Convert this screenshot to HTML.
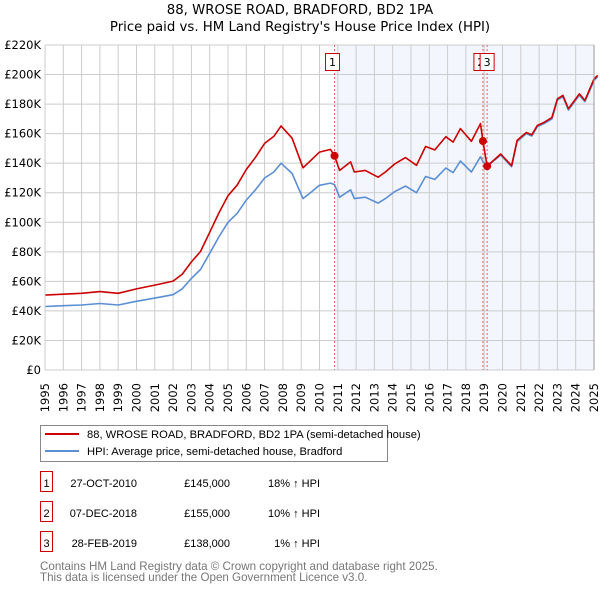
<!DOCTYPE html>
<html><head><meta charset="utf-8"><style>
body{margin:0;background:#fff;font-family:"DejaVu Sans","Liberation Sans",sans-serif;}
svg{display:block}
</style></head><body>
<svg id="chart" width="600" height="590" font-family="DejaVu Sans, Liberation Sans, sans-serif">
<text x="300" y="14" text-anchor="middle" font-size="13.3">88, WROSE ROAD, BRADFORD, BD2 1PA</text>
<text x="300" y="31" text-anchor="middle" font-size="13.3">Price paid vs. HM Land Registry's House Price Index (HPI)</text>
<g id="plot"></g>
<g font-family="Liberation Sans, sans-serif">
<rect x="40.5" y="425.5" width="347" height="36" fill="#fff" stroke="#888"/>
<line x1="45" y1="434" x2="79" y2="434" stroke="#cc0000" stroke-width="2"/>
<text x="87" y="438" font-size="11.2">88, WROSE ROAD, BRADFORD, BD2 1PA (semi-detached house)</text>
<line x1="45" y1="451" x2="79" y2="451" stroke="#5b8fd4" stroke-width="2"/>
<text x="87" y="455" font-size="11.2">HPI: Average price, semi-detached house, Bradford</text>
</g>
<g id="table" font-size="11" font-family="Liberation Sans, sans-serif"></g>
<text x="40" y="570" font-size="11.6" fill="#777" font-family="Liberation Sans, sans-serif">Contains HM Land Registry data © Crown copyright and database right 2025.</text>
<text x="40" y="581" font-size="11.6" fill="#777" font-family="Liberation Sans, sans-serif">This data is licensed under the Open Government Licence v3.0.</text>
</svg>
<script>
const hpiYears=[1995,1996,1997,1998,1999,2000,2001,2002,2002.5,2003,2003.5,2004,2004.5,2005,2005.5,2006,2006.5,2007,2007.5,2007.9,2008.5,2009.1,2009.5,2010,2010.6,2010.82,2011.1,2011.7,2011.9,2012.5,2013.2,2013.6,2014.1,2014.7,2015.3,2015.8,2016.3,2016.9,2017.3,2017.7,2018.3,2018.8,2018.93,2019.16,2019.9,2020.5,2020.8,2021.3,2021.6,2021.9,2022.3,2022.7,2023,2023.3,2023.6,2024.2,2024.5,2025,2025.2];
const hpiValues=[43,43.5,44,45,44,46.5,48.7,51,55,62,68,79,90,100,106,115,122,130,134,140,133,116,120,125,126.5,125.5,117,122,116,117,113,116,120.7,124.5,120,131,129,136.7,133.6,141.5,134,144.4,141,138,145.5,137.6,154.6,160,158.4,164.7,167,170,182.7,185,176,186,181.6,196,198.5];
const redYears=[1995,1996,1997,1998,1999,2000,2001,2002,2002.5,2003,2003.5,2004,2004.5,2005,2005.5,2006,2006.5,2007,2007.5,2007.9,2008.5,2009.1,2009.5,2010,2010.6,2010.82,2011.1,2011.7,2011.9,2012.5,2013.2,2013.6,2014.1,2014.7,2015.3,2015.8,2016.3,2016.9,2017.3,2017.7,2018.3,2018.8,2018.93,2019.16,2019.9,2020.5,2020.8,2021.3,2021.6,2021.9,2022.3,2022.7,2023,2023.3,2023.6,2024.2,2024.5,2025,2025.2];
const redValues=[50.7,51.3,51.9,53.1,51.9,54.9,57.5,60.2,64.9,73.2,80.2,93.2,106.2,118,125.1,135.7,144,153.4,158.1,165.2,156.9,136.9,141.6,147.5,149.3,145,135.1,140.9,134,135.1,130.5,134,139.4,143.8,138.6,151.3,149,157.9,154.3,163.4,154.8,166.8,155,138,146.2,138.3,155.4,160.8,159.2,165.5,167.8,170.9,183.6,185.9,176.9,186.9,182.5,197,199.5];
const saleYears=[2010.82,2018.93,2019.16];
const saleValues=[145,155,138];
const saleLabels=["1","2","3"];
const saleDates=["27-OCT-2010","07-DEC-2018","28-FEB-2019"];
const salePrices=["£145,000","£155,000","£138,000"];
const saleHpi=["18% ↑ HPI","10% ↑ HPI","1% ↑ HPI"];
const yTicks=[0,20,40,60,80,100,120,140,160,180,200,220];
const xTicks=[1995,1996,1997,1998,1999,2000,2001,2002,2003,2004,2005,2006,2007,2008,2009,2010,2011,2012,2013,2014,2015,2016,2017,2018,2019,2020,2021,2022,2023,2024,2025];

const X0=45,X1=594,Y0=370,Y1=45;
const xs=y=>X0+(y-1995)/30*(X1-X0);
const ys=v=>Y0-v/220*(Y0-Y1);
const NS="http://www.w3.org/2000/svg";
const plot=document.getElementById('plot');
function mk(tag,attrs,parent){const e=document.createElementNS(NS,tag);for(const k in attrs)e.setAttribute(k,attrs[k]);(parent||plot).appendChild(e);return e;}

let e=mk('rect',{x:xs(saleYears[0]),y:Y1,width:X1-xs(saleYears[0]),height:Y0-Y1,fill:'#f3f6fd'});


yTicks.forEach(t=>{
  const l=mk('line',{x1:X0,x2:X1,y1:ys(t),y2:ys(t),stroke:'#cccccc','stroke-width':1});
  
  
  const tx=mk('text',{x:X0-4,y:ys(t)+4,'text-anchor':'end','font-size':'11.5'});
  tx.textContent=t===0?'£0':'£'+t+'K';
  
  
});
xTicks.forEach(t=>{
  const l=mk('line',{x1:xs(t),x2:xs(t),y1:Y1,y2:Y0,stroke:'#cccccc','stroke-width':1});
  
  
  const tx=mk('text',{x:0,y:0,'text-anchor':'end','font-size':'11.5',transform:`translate(${xs(t)+4},383) rotate(-90)`});
  tx.textContent=t;
  
  
});
saleYears.forEach((s,i)=>{
  const l=mk('line',{x1:xs(s),x2:xs(s),y1:Y1,y2:Y0,stroke:'#e06666','stroke-width':1,'stroke-dasharray':'2,2'});
  
  
});
function path(xa,va,color,name){
  const d=xa.map((x,i)=>(i?'L':'M')+xs(x).toFixed(1)+','+ys(va[i]).toFixed(1)).join('');
  const p=mk('path',{d:d,fill:'none',stroke:color,'stroke-width':1.6,'stroke-linejoin':'round'});
  
  
}
path(hpiYears,hpiValues,'#5b8fd4','hpi-line');
path(redYears,redValues,'#cc0000','property-price-line');
saleYears.forEach((s,i)=>{
  const c=mk('circle',{cx:xs(s),cy:ys(saleValues[i]),r:4,fill:'#cc0000'});
  
  
});
[[0,xs(saleYears[0])-2],[1,xs(saleYears[1])-2],[2,xs(saleYears[2])]].forEach(([i,cx])=>{
  const g=mk('g',{});
  
  
  mk('rect',{x:cx-7,y:53.5,width:14,height:17,fill:'#fff',stroke:'#cc0000'},g);
  const t=mk('text',{x:cx,y:66,'text-anchor':'middle','font-size':'11'},g);t.textContent=saleLabels[i];
});
mk('line',{x1:X0,x2:X0,y1:Y1,y2:Y0,stroke:'#ccc'});
mk('line',{x1:X1,x2:X1,y1:Y1,y2:Y0,stroke:'#999'});
const tb=document.getElementById('table');
saleLabels.forEach((lab,i)=>{
  const y=483+i*30;
  const g=mk('g',{},tb);
  
  
  mk('rect',{x:40.5,y:y-11.5,width:12,height:20,fill:'#fff',stroke:'#cc0000'},g);
  let t=mk('text',{x:46.5,y:y+4,'text-anchor':'middle'},g);t.textContent=lab;
  t=mk('text',{x:137,y:y+4,'text-anchor':'end'},g);t.textContent=saleDates[i];
  t=mk('text',{x:230,y:y+4,'text-anchor':'end'},g);t.textContent=salePrices[i];
  t=mk('text',{x:320,y:y+4,'text-anchor':'end'},g);t.textContent=saleHpi[i];
});
</script>
</body></html>
